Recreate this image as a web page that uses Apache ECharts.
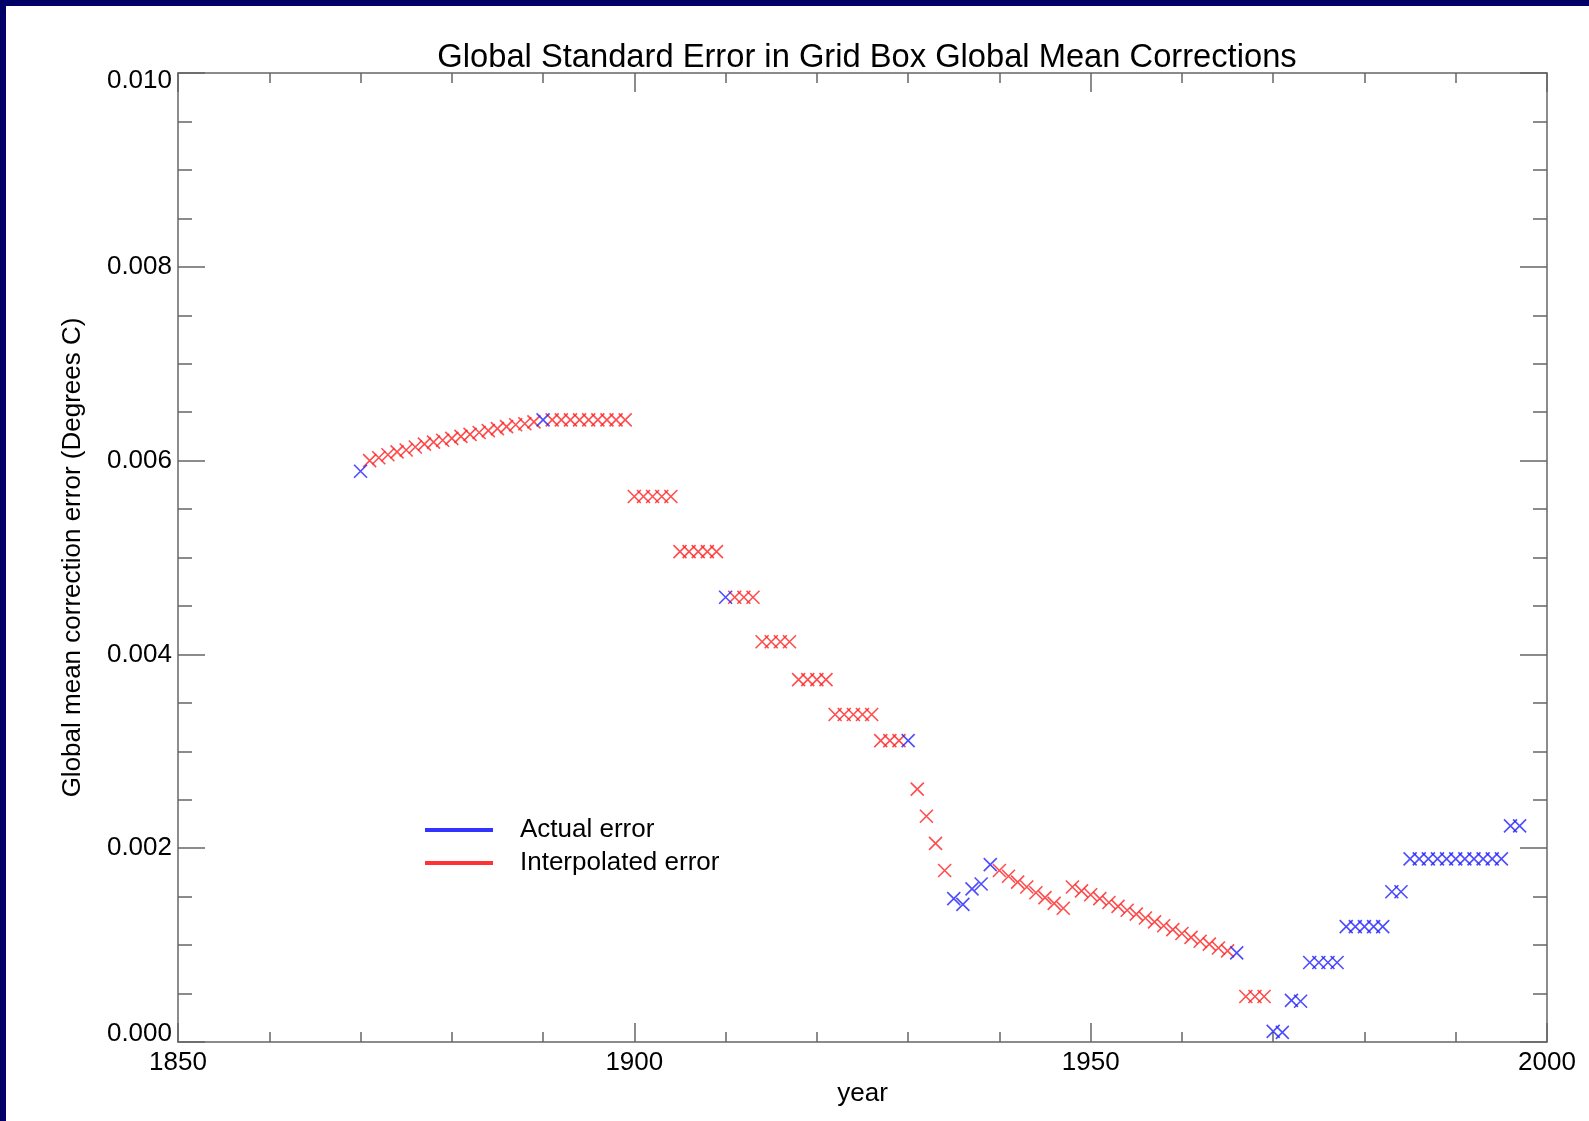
<!DOCTYPE html>
<html>
<head>
<meta charset="utf-8">
<title>Global Standard Error in Grid Box Global Mean Corrections</title>
<script src="https://cdn.jsdelivr.net/npm/echarts@6/dist/echarts.min.js"></script>
<style>
    html, body { margin: 0; padding: 0; background: #000066; }
    #chart { position: absolute; left: 6px; top: 6px; width: 1583px; height: 1115px; background: #fff; }
</style>
</head>
<body>
<div id="chart"></div>
<script>
// blue crosses - years with actual data
const actualYears = [1870, 1890, 1910, 1930, 1935, 1936, 1937, 1938, 1939, 1966,
    1970, 1971, 1972, 1973, 1974, 1975, 1976, 1977,
    1978, 1979, 1980, 1981, 1982, 1983, 1984,
    1985, 1986, 1987, 1988, 1989, 1990, 1991, 1992, 1993, 1994, 1995, 1996, 1997]
const actualErr = [0.00589, 0.00642, 0.00459, 0.00311, 0.00148, 0.00142, 0.00158, 0.00163, 0.00183, 0.00092,
    0.00011, 0.00010, 0.00043, 0.00042, 0.00082, 0.00082, 0.00082, 0.00082,
    0.00119, 0.00119, 0.00119, 0.00119, 0.00119, 0.00155, 0.00155,
    0.00189, 0.00189, 0.00189, 0.00189, 0.00189, 0.00189, 0.00189, 0.00189, 0.00189, 0.00189, 0.00189, 0.00223, 0.00223]

// red crosses - interpolated years
const interpYears = [1871, 1872, 1873, 1874, 1875, 1876, 1877, 1878, 1879, 1880,
    1881, 1882, 1883, 1884, 1885, 1886, 1887, 1888, 1889,
    1891, 1892, 1893, 1894, 1895, 1896, 1897, 1898, 1899,
    1900, 1901, 1902, 1903, 1904, 1905, 1906, 1907, 1908, 1909,
    1911, 1912, 1913, 1914, 1915, 1916, 1917, 1918, 1919, 1920, 1921,
    1922, 1923, 1924, 1925, 1926, 1927, 1928, 1929,
    1931, 1932, 1933, 1934,
    1940, 1941, 1942, 1943, 1944, 1945, 1946, 1947,
    1948, 1949, 1950, 1951, 1952, 1953, 1954, 1955, 1956, 1957,
    1958, 1959, 1960, 1961, 1962, 1963, 1964, 1965,
    1967, 1968, 1969]
const interpErr = [0.00600, 0.00603, 0.00606, 0.00609, 0.00611, 0.00614, 0.00617, 0.00619, 0.00621, 0.00623,
    0.00625, 0.00627, 0.00629, 0.00631, 0.00633, 0.00635, 0.00637, 0.00638, 0.00640,
    0.00642, 0.00642, 0.00642, 0.00642, 0.00642, 0.00642, 0.00642, 0.00642, 0.00642,
    0.00563, 0.00563, 0.00563, 0.00563, 0.00563, 0.00506, 0.00506, 0.00506, 0.00506, 0.00506,
    0.00459, 0.00459, 0.00459, 0.00413, 0.00413, 0.00413, 0.00413, 0.00374, 0.00374, 0.00374, 0.00374,
    0.00338, 0.00338, 0.00338, 0.00338, 0.00338, 0.00311, 0.00311, 0.00311,
    0.00261, 0.00233, 0.00205, 0.00177,
    0.00177, 0.00171, 0.00165, 0.00160, 0.00154, 0.00149, 0.00143, 0.00138,
    0.00160, 0.00156, 0.00152, 0.00148, 0.00144, 0.00140, 0.00136, 0.00132, 0.00128, 0.00124,
    0.00120, 0.00116, 0.00112, 0.00108, 0.00104, 0.00101, 0.00097, 0.00094,
    0.00047, 0.00047, 0.00047]

const xTicks = [1850, 1900, 1950, 2000]
const yTicks = [0.000, 0.002, 0.004, 0.006, 0.008, 0.010]

const font = '"Liberation Sans", Arial, Helvetica, sans-serif'
const axisColor = '#666'
const cross = 'path://M0 0L10 10M10 0L0 10'

function zip(xs, ys) {
    let out = []
    for (let i = 0; i < xs.length; i++) {
        out.push([xs[i], ys[i]])
    }
    return out
}

const xBase = {
    type: 'value',
    min: xTicks[0],
    max: xTicks[xTicks.length - 1],
    interval: 50,
    splitLine: { show: false },
    axisLine: { show: true, onZero: false, lineStyle: { color: axisColor, width: 1.5 } },
    axisTick: { show: true, inside: true, length: 19, lineStyle: { color: axisColor, width: 1.5 } },
    minorTick: { show: true, splitNumber: 5, length: 10, lineStyle: { color: axisColor, width: 1.5 } },
}

const yBase = {
    type: 'value',
    min: yTicks[0],
    max: yTicks[yTicks.length - 1],
    interval: 0.002,
    splitLine: { show: false },
    axisLine: { show: true, onZero: false, lineStyle: { color: axisColor, width: 1.5 } },
    axisTick: { show: true, inside: true, length: 27, lineStyle: { color: axisColor, width: 1.5 } },
    minorTick: { show: true, splitNumber: 4, length: 14, lineStyle: { color: axisColor, width: 1.5 } },
}

const option = {
    backgroundColor: '#fff',
    animation: false,
    title: {
        text: 'Global Standard Error in Grid Box Global Mean Corrections',
        left: 856,
        top: 30,
        textAlign: 'center',
        textStyle: { fontFamily: font, fontSize: 32.7, fontWeight: 'normal', color: '#000' }
    },
    grid: { left: 172, top: 67, width: 1369, height: 969 },
    legend: {
        orient: 'vertical',
        left: 414,
        top: 806,
        itemWidth: 68,
        itemHeight: 4,
        itemGap: 7,
        textStyle: { fontFamily: font, fontSize: 26, color: '#000', lineHeight: 26, padding: [0, 0, 0, 22] },
        data: [
            { name: 'Actual error', icon: 'rect', itemStyle: { color: '#0000ff', borderWidth: 0 } },
            { name: 'Interpolated error', icon: 'rect', itemStyle: { color: '#ff0000', borderWidth: 0 } }
        ]
    },
    xAxis: [
        Object.assign({}, xBase, {
            position: 'bottom',
            name: 'year',
            nameLocation: 'middle',
            nameGap: 36,
            nameTextStyle: { fontFamily: font, fontSize: 26, color: '#000' },
            axisLabel: {
                fontFamily: font, fontSize: 26, color: '#000', margin: 8,
                formatter: function (v) { return String(v) }
            }
        }),
        Object.assign({}, xBase, { position: 'top', axisLabel: { show: false } })
    ],
    yAxis: [
        Object.assign({}, yBase, {
            position: 'left',
            name: 'Global mean correction error (Degrees C)',
            nameLocation: 'middle',
            nameGap: 92,
            nameTextStyle: { fontFamily: font, fontSize: 26, color: '#000' },
            axisLabel: {
                fontFamily: font, fontSize: 26, color: '#000', margin: 6,
                formatter: function (v) {
                    const s = v.toFixed(3)
                    if (v === yTicks[0]) return '{lo|' + s + '}'
                    if (v === yTicks[yTicks.length - 1]) return '{hi|' + s + '}'
                    return s
                },
                rich: {
                    lo: { fontFamily: font, fontSize: 26, color: '#000', padding: [0, 0, 16, 0] },
                    hi: { fontFamily: font, fontSize: 26, color: '#000', padding: [16, 0, 0, 0] }
                }
            }
        }),
        Object.assign({}, yBase, { position: 'right', axisLabel: { show: false } })
    ],
    series: [
        {
            name: 'Interpolated error',
            type: 'scatter',
            symbol: cross,
            symbolSize: 13,
            data: zip(interpYears, interpErr),
            itemStyle: { color: 'rgba(0,0,0,0)', borderColor: '#ff2020', borderWidth: 1.6 }
        },
        {
            name: 'Actual error',
            type: 'scatter',
            symbol: cross,
            symbolSize: 13,
            data: zip(actualYears, actualErr),
            itemStyle: { color: 'rgba(0,0,0,0)', borderColor: '#2020ff', borderWidth: 1.6 }
        }
    ]
}

let myChart = echarts.init(document.getElementById('chart'))
myChart.setOption(option)
window.addEventListener('resize', function () {
    myChart.resize()
})
</script>
</body>
</html>
